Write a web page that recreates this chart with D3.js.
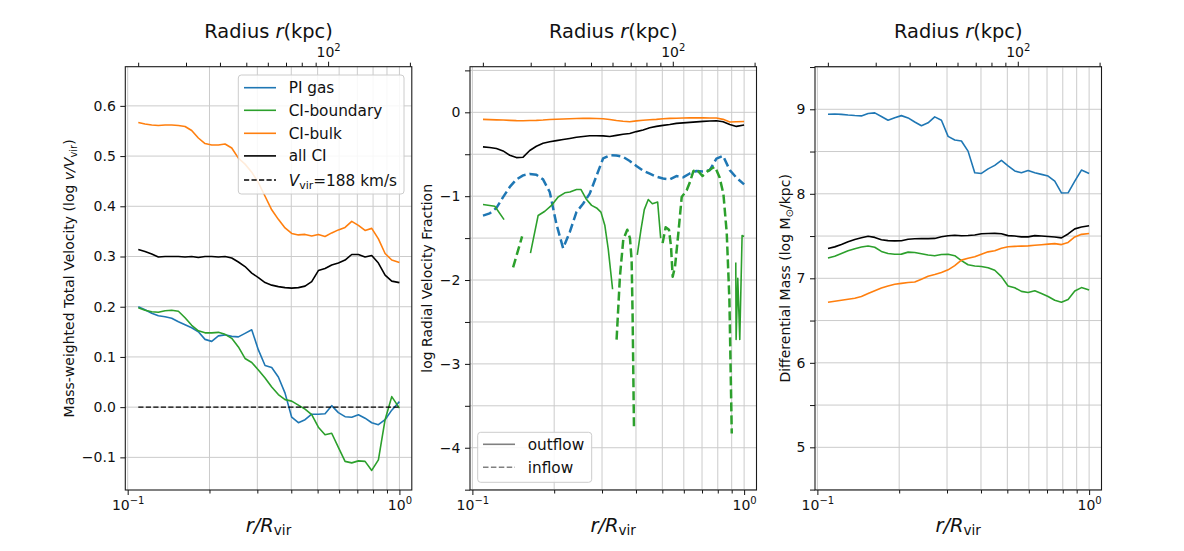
<!DOCTYPE html>
<html>
<head>
<meta charset="utf-8">
<script src="https://cdn.jsdelivr.net/npm/d3@7/dist/d3.min.js"></script>
<style>
  body { margin: 0; background: #fff; }
  svg { font-family: "DejaVu Sans", sans-serif; }
</style>
</head>
<body>
<svg id="fig" width="1184" height="551"></svg>
<script>
// r/Rvir sample points, shared by the smooth profiles in all three panels
var rGrid = [0.1094, 0.1158, 0.1226, 0.1297, 0.1373, 0.1452, 0.1537, 0.1626, 0.1720, 0.1820,
  0.1926, 0.2038, 0.2157, 0.2282, 0.2415, 0.2555, 0.2703, 0.2861, 0.3027, 0.3203,
  0.3389, 0.3585, 0.3794, 0.4014, 0.4248, 0.4495, 0.4756, 0.5032, 0.5325, 0.5634,
  0.5962, 0.6310, 0.6677, 0.7065, 0.7475, 0.7909, 0.8369, 0.8857, 0.9371, 1.0];

// panel 1 - mass-weighted total velocity (log v/Vvir)
var velPI = [0.200, 0.194, 0.187, 0.182, 0.180, 0.177, 0.170, 0.164, 0.158, 0.150,
  0.135, 0.131, 0.142, 0.144, 0.141, 0.140, 0.147, 0.154, 0.114, 0.083,
  0.079, 0.060, 0.028, -0.020, -0.031, -0.025, -0.014, -0.014, -0.013, 0.003,
  -0.011, -0.019, -0.020, -0.015, -0.022, -0.031, -0.035, -0.025, -0.006, 0.011];
var velBoundary = [0.198, 0.193, 0.190, 0.189, 0.192, 0.193, 0.191, 0.178, 0.163, 0.152,
  0.148, 0.148, 0.149, 0.145, 0.137, 0.120, 0.097, 0.089, 0.074, 0.058,
  0.040, 0.025, 0.015, 0.012, 0.004, -0.004, -0.015, -0.040, -0.055, -0.052,
  -0.080, -0.108, -0.111, -0.107, -0.108, -0.126, -0.105, -0.025, 0.021, -0.002];
var velBulk = [0.567, 0.564, 0.562, 0.561, 0.562, 0.562, 0.561, 0.559, 0.551, 0.536,
  0.525, 0.522, 0.522, 0.524, 0.516, 0.496, 0.484, 0.468, 0.447, 0.420,
  0.393, 0.374, 0.357, 0.346, 0.343, 0.344, 0.341, 0.344, 0.340, 0.347,
  0.353, 0.358, 0.370, 0.362, 0.352, 0.356, 0.335, 0.306, 0.293, 0.288];
var velAll = [0.314, 0.310, 0.305, 0.299, 0.300, 0.300, 0.300, 0.299, 0.300, 0.298,
  0.300, 0.300, 0.299, 0.300, 0.297, 0.289, 0.280, 0.267, 0.258, 0.248,
  0.243, 0.240, 0.238, 0.237, 0.238, 0.241, 0.250, 0.272, 0.276, 0.283,
  0.287, 0.293, 0.304, 0.304, 0.299, 0.302, 0.287, 0.263, 0.251, 0.248];
var vvir = 188; // km/s
var vvirLevel = [0, 0];

// panel 2 - log radial velocity fraction
var fracBulk = [-0.084, -0.087, -0.090, -0.092, -0.096, -0.099, -0.100, -0.098, -0.096, -0.092,
  -0.086, -0.083, -0.080, -0.076, -0.074, -0.072, -0.072, -0.074, -0.076, -0.086,
  -0.098, -0.106, -0.112, -0.102, -0.094, -0.088, -0.084, -0.076, -0.072, -0.070,
  -0.068, -0.066, -0.064, -0.066, -0.068, -0.068, -0.084, -0.116, -0.112, -0.110];
var fracAll = [-0.412, -0.420, -0.432, -0.460, -0.512, -0.540, -0.535, -0.455, -0.405, -0.370,
  -0.352, -0.338, -0.325, -0.312, -0.298, -0.288, -0.280, -0.280, -0.281, -0.288,
  -0.275, -0.262, -0.252, -0.230, -0.210, -0.185, -0.168, -0.156, -0.145, -0.132,
  -0.126, -0.120, -0.114, -0.108, -0.104, -0.100, -0.112, -0.144, -0.168, -0.152];
var fracPIin = [-1.232, -1.205, -1.140, -1.012, -0.890, -0.800, -0.752, -0.735, -0.745, -0.800,
  -0.950, -1.332, -1.620, -1.430, -1.190, -1.090, -0.970, -0.760, -0.550, -0.512,
  -0.515, -0.532, -0.580, -0.640, -0.695, -0.732, -0.768, -0.790, -0.800, -0.760,
  -0.775, -0.730, -0.700, -0.705, -0.690, -0.552, -0.520, -0.690, -0.780, -0.860];
// CI-boundary comes in pieces, null marks a gap
var boundOutR = [0.1094, 0.1209, 0.1308, null,
  0.1636, 0.1746, 0.1848, 0.1955, 0.2068, 0.2189, 0.2284, 0.2417, 0.2508, 0.2631,
  0.2746, 0.2864, 0.2972, 0.3073, 0.3162, 0.3281, null,
  0.4044, 0.4173, 0.4292, 0.4439, 0.4595, 0.4806, 0.4931, null,
  0.9318, 0.9344, 0.9477, 0.9639, 0.9831, 1.0];
var boundOut = [-1.10, -1.12, -1.28, null,
  -1.68, -1.23, -1.18, -1.11, -1.01, -0.96, -0.95, -0.92, -0.92, -1.04,
  -1.11, -1.14, -1.19, -1.35, -1.63, -2.11, null,
  -1.70, -1.40, -1.16, -1.04, -1.09, -1.07, -1.50, null,
  -1.79, -2.71, -1.98, -2.71, -1.47, -1.48];
var boundInR = [0.1412, 0.1524, null,
  0.3394, 0.3491, 0.3591, 0.3715, 0.3801, 0.3855, 0.3888, 0.3932, null,
  0.5013, 0.5143, 0.5291, 0.5382, 0.5459, 0.5568, 0.5728, 0.5893, 0.6148, 0.6324,
  0.6506, 0.6693, 0.7023, 0.7287, 0.7600, 0.7818, 0.8112, 0.8390, 0.8632, 0.8829, 0.9006];
var boundIn = [-1.85, -1.48, null,
  -2.71, -1.96, -1.52, -1.40, -1.50, -1.76, -2.44, -3.75, null,
  -1.56, -1.37, -1.40, -1.60, -1.96, -1.84, -1.44, -1.01, -0.93, -0.83,
  -0.70, -0.68, -0.76, -0.71, -0.67, -0.65, -0.77, -0.97, -1.44, -2.24, -3.83];

// panel 3 - differential mass (log Msun/kpc)
var massPI = [8.941, 8.944, 8.940, 8.932, 8.926, 8.922, 8.950, 8.958, 8.915, 8.870,
  8.900, 8.925, 8.898, 8.850, 8.806, 8.840, 8.910, 8.870, 8.680, 8.636,
  8.625, 8.505, 8.250, 8.241, 8.295, 8.336, 8.395, 8.330, 8.270, 8.250,
  8.275, 8.248, 8.230, 8.210, 8.150, 8.010, 8.012, 8.150, 8.281, 8.241];
var massAll = [7.352, 7.372, 7.400, 7.432, 7.460, 7.480, 7.497, 7.484, 7.456, 7.446,
  7.443, 7.445, 7.463, 7.468, 7.470, 7.470, 7.472, 7.492, 7.503, 7.510,
  7.503, 7.506, 7.512, 7.528, 7.530, 7.532, 7.528, 7.505, 7.500, 7.490,
  7.490, 7.505, 7.500, 7.494, 7.488, 7.478, 7.525, 7.585, 7.607, 7.621];
var massBoundary = [7.241, 7.262, 7.294, 7.326, 7.350, 7.370, 7.383, 7.367, 7.318, 7.294,
  7.285, 7.286, 7.310, 7.305, 7.290, 7.275, 7.266, 7.281, 7.285, 7.268,
  7.210, 7.160, 7.145, 7.140, 7.125, 7.095, 7.020, 6.910, 6.888, 6.845,
  6.833, 6.852, 6.820, 6.785, 6.740, 6.717, 6.750, 6.850, 6.890, 6.862];
var massBulk = [6.717, 6.728, 6.740, 6.752, 6.765, 6.785, 6.820, 6.853, 6.885, 6.910,
  6.930, 6.940, 6.950, 6.956, 6.990, 7.025, 7.045, 7.068, 7.100, 7.150,
  7.215, 7.237, 7.256, 7.285, 7.313, 7.326, 7.355, 7.373, 7.378, 7.381,
  7.384, 7.392, 7.398, 7.405, 7.410, 7.399, 7.425, 7.490, 7.520, 7.530];

// ticks
var rvirKpc = 183;
var xMajor = [0.1, 1];
var xMinor = [0.2, 0.3, 0.4, 0.5, 0.6, 0.7, 0.8, 0.9];
var kpcMajor = [100];
var kpcMinor = [20, 30, 40, 50, 60, 70, 80, 90, 200];
var velTicks = [-0.1, 0, 0.1, 0.2, 0.3, 0.4, 0.5, 0.6];
var fracTicks = [-4, -3, -2, -1, 0];
var fracMinor = [-4.5, -3.5, -2.5, -1.5, -0.5, 0.5];
var massTicks = [5, 6, 7, 8, 9];
var massMinor = [4.5, 5.5, 6.5, 7.5, 8.5, 9.5];

var blue = '#1f77b4', orange = '#ff7f0e', green = '#2ca02c', black = '#000000';

var fig = d3.select('#fig');
var top0 = 66.7, bottom0 = 490, panelW = 286.5;
var xDomain = [0.098, 1.1107];

function pairs(xs, ys) {
  return xs.map((r, i) => [r, ys[i]]);
}

function createPanel(left, yDomain, yTicks, yMinor, yFormat, id) {
  var x = d3.scaleLog().domain(xDomain).range([left, left + panelW]);
  var xTop = d3.scaleLog()
    .domain([xDomain[0] * rvirKpc, xDomain[1] * rvirKpc])
    .range([left, left + panelW]);
  var y = d3.scaleLinear().domain(yDomain).range([bottom0, top0]);
  var g = fig.append('g');

  // grid
  var grid = g.append('g').attr('stroke', '#cbcbcb').attr('stroke-width', 1);
  grid.selectAll('.gx')
    .data(xMajor.concat(xMinor))
    .enter().append('line')
    .attr('x1', d => x(d)).attr('x2', d => x(d))
    .attr('y1', top0).attr('y2', bottom0);
  grid.selectAll('.gy')
    .data(yTicks.concat(yMinor))
    .enter().append('line')
    .attr('x1', left).attr('x2', left + panelW)
    .attr('y1', d => y(d)).attr('y2', d => y(d));

  fig.append('clipPath').attr('id', 'clip' + id)
    .append('rect')
    .attr('x', left).attr('y', top0)
    .attr('width', panelW).attr('height', bottom0 - top0);
  var lines = g.append('g').attr('clip-path', 'url(#clip' + id + ')');

  // bottom axis
  var axB = g.append('g')
    .attr('transform', 'translate(0,' + bottom0 + ')')
    .call(d3.axisBottom(x).tickValues(xMajor).tickSize(5).tickPadding(5).tickFormat(''));
  axB.selectAll('.tick text').each(function (d) {
    var t = d3.select(this);
    t.append('tspan').text('10');
    t.append('tspan').attr('dy', -6).attr('font-size', 10).text(d === 1 ? '0' : '\u22121');
  });
  g.append('g')
    .attr('transform', 'translate(0,' + bottom0 + ')')
    .call(d3.axisBottom(x).tickValues(xMinor).tickSize(3.5).tickFormat(''));

  // top axis in kpc
  var axT = g.append('g')
    .attr('transform', 'translate(0,' + top0 + ')')
    .call(d3.axisTop(xTop).tickValues(kpcMajor).tickSize(5).tickPadding(4.8).tickFormat(''));
  axT.selectAll('.tick text').each(function (d) {
    var t = d3.select(this);
    t.append('tspan').text('10');
    t.append('tspan').attr('dy', -6).attr('font-size', 10).text('2');
  });
  g.append('g')
    .attr('transform', 'translate(0,' + top0 + ')')
    .call(d3.axisTop(xTop).tickValues(kpcMinor).tickSize(4).tickFormat(''));

  // left axis
  g.append('g')
    .attr('transform', 'translate(' + left + ',0)')
    .call(d3.axisLeft(y).tickValues(yTicks).tickSize(5).tickPadding(4.5).tickFormat(yFormat));
  g.append('g')
    .attr('transform', 'translate(' + left + ',0)')
    .call(d3.axisLeft(y).tickValues(yMinor).tickSize(5).tickFormat(''));

  g.selectAll('.domain').remove();
  g.selectAll('.tick text').attr('font-size', 14).attr('font-family', null).attr('fill', '#111');
  g.selectAll('.tick line').attr('stroke', '#111').attr('stroke-width', 1);
  g.selectAll('g').filter(function () { return this.hasAttribute('font-size'); })
    .attr('font-size', null).attr('font-family', null);

  // spines
  g.append('rect')
    .attr('x', left).attr('y', top0)
    .attr('width', panelW).attr('height', bottom0 - top0)
    .attr('fill', 'none').attr('stroke', '#1a1a1a').attr('stroke-width', 1.1);

  // title and x label
  var cx = left + panelW / 2;
  var title = g.append('text').attr('x', cx).attr('y', 38)
    .attr('text-anchor', 'middle').attr('font-size', 19.4).attr('fill', '#111');
  title.append('tspan').text('Radius ');
  title.append('tspan').attr('font-style', 'italic').text('r');
  title.append('tspan').text('(kpc)');

  var xl = g.append('text').attr('x', cx).attr('y', 531.5)
    .attr('text-anchor', 'middle').attr('font-size', 19.4).attr('fill', '#111');
  xl.append('tspan').attr('font-style', 'italic').text('r/R');
  xl.append('tspan').attr('font-size', 13.6).attr('dy', 3).text('vir');

  return { g: g, lines: lines, x: x, y: y, left: left };
}

function drawLine(p, data, color, width, dash) {
  var line = d3.line()
    .defined(d => d[0] != null && d[1] != null)
    .x(d => p.x(d[0]))
    .y(d => p.y(d[1]));
  p.lines.append('path')
    .datum(data)
    .attr('d', line)
    .attr('fill', 'none')
    .attr('stroke', color)
    .attr('stroke-width', width)
    .attr('stroke-linejoin', 'round')
    .attr('stroke-dasharray', dash || null);
}

function yLabel(p, xPos, parts) {
  var t = p.g.append('text')
    .attr('transform', 'translate(' + xPos + ',' + ((top0 + bottom0) / 2) + ') rotate(-90)')
    .attr('text-anchor', 'middle').attr('font-size', 14).attr('fill', '#111');
  parts.forEach(part => {
    var s = t.append('tspan').text(part.text);
    if (part.italic) s.attr('font-style', 'italic');
    if (part.sub) s.attr('font-size', 10).attr('dy', 3);
    if (part.back) s.attr('dy', -3);
  });
}

function legendBox(p, x0, y0, w, h) {
  p.g.append('rect')
    .attr('x', x0).attr('y', y0).attr('width', w).attr('height', h)
    .attr('rx', 3)
    .attr('fill', '#fff').attr('fill-opacity', 0.85)
    .attr('stroke', '#cccccc').attr('stroke-width', 1);
}

function legendRow(p, x0, yc, color, width, dash, parts) {
  p.g.append('line')
    .attr('x1', x0).attr('x2', x0 + 32).attr('y1', yc).attr('y2', yc)
    .attr('stroke', color).attr('stroke-width', width)
    .attr('stroke-dasharray', dash || null);
  var t = p.g.append('text').attr('x', x0 + 44.7).attr('y', yc + 5.5)
    .attr('font-size', 15.3).attr('fill', '#111');
  parts.forEach(part => {
    var s = t.append('tspan').text(part.text);
    if (part.italic) s.attr('font-style', 'italic');
    if (part.sub) s.attr('font-size', 11).attr('dy', 3.5);
    if (part.back) s.attr('dy', -3.5);
  });
}

var fmt1 = d3.format('.1f'), fmt0 = d3.format('d');

// ---- panel 1
var p1 = createPanel(125.3, [-0.165, 0.678], velTicks, [], fmt1, 1);
drawLine(p1, pairs(rGrid, velPI), blue, 1.6);
drawLine(p1, pairs(rGrid, velBoundary), green, 1.6);
drawLine(p1, pairs(rGrid, velBulk), orange, 1.6);
drawLine(p1, pairs(rGrid, velAll), black, 1.6);
drawLine(p1, pairs([rGrid[0], rGrid[rGrid.length - 1]], vvirLevel), black, 1.4, '5.2,2.3');
yLabel(p1, 74, [
  { text: 'Mass-weighted Total Velocity (log ' },
  { text: 'v/V', italic: true },
  { text: 'vir', sub: true },
  { text: ')', back: true }
]);
legendBox(p1, 238.3, 75, 165.7, 119);
legendRow(p1, 244, 87.7, blue, 1.6, null, [{ text: 'PI gas' }]);
legendRow(p1, 244, 110.3, green, 1.6, null, [{ text: 'CI-boundary' }]);
legendRow(p1, 244, 133.3, orange, 1.6, null, [{ text: 'CI-bulk' }]);
legendRow(p1, 244, 155.9, black, 1.6, null, [{ text: 'all CI' }]);
legendRow(p1, 244, 180, black, 1.4, '5.2,2.3', [
  { text: 'V', italic: true },
  { text: 'vir', sub: true },
  { text: '=' + vvir + ' km/s', back: true }
]);

// ---- panel 2
var p2 = createPanel(470, [-4.504, 0.544], fracTicks, fracMinor, fmt0, 2);
drawLine(p2, pairs(rGrid, fracBulk), orange, 1.6);
drawLine(p2, pairs(rGrid, fracAll), black, 1.6);
drawLine(p2, pairs(rGrid, fracPIin), blue, 2.5, '9,4');
drawLine(p2, pairs(boundOutR, boundOut), green, 1.6);
drawLine(p2, pairs(boundInR, boundIn), green, 2.5, '9,4');
yLabel(p2, 432, [{ text: 'log Radial Velocity Fraction' }]);
legendBox(p2, 477.7, 432.3, 114, 50);
legendRow(p2, 483, 444.3, '#808080', 1.6, null, [{ text: 'outflow' }]);
legendRow(p2, 483, 467.3, '#808080', 1.6, '5.5,2.4', [{ text: 'inflow' }]);

// ---- panel 3
var p3 = createPanel(815, [4.495, 9.504], massTicks, massMinor, fmt0, 3);
drawLine(p3, pairs(rGrid, massPI), blue, 1.6);
drawLine(p3, pairs(rGrid, massBoundary), green, 1.6);
drawLine(p3, pairs(rGrid, massBulk), orange, 1.6);
drawLine(p3, pairs(rGrid, massAll), black, 1.6);
yLabel(p3, 789.5, [
  { text: 'Differential Mass (log M' },
  { text: '\u2299', sub: true },
  { text: '/kpc)', back: true }
]);
</script>
</body>
</html>
